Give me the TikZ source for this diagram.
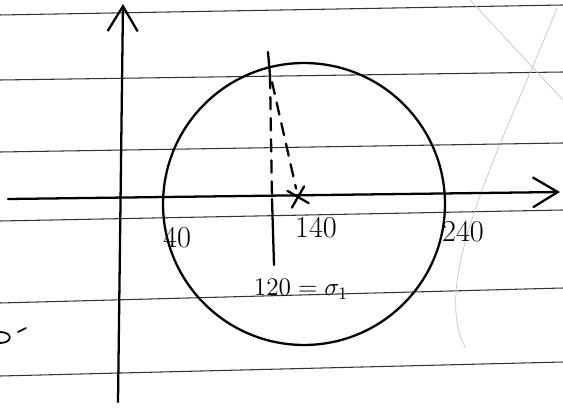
\documentclass[tikz,border=0pt]{standalone}
\usetikzlibrary{arrows.meta,shapes.misc}
\begin{document}
\begin{tikzpicture}[x=0.02cm,y=-0.02cm,>={Straight Barb[length=5mm,width=6mm]}]

        % Styles
        \tikzset{
          ink/.style={line width=1.3pt,line cap=round},
          dashink/.style={ink,dash pattern=on 7pt off 5pt},
          rule/.style={black!80,line width=0.6pt},
          ghost/.style={gray!45,line width=0.4pt},
          lbl/.style={font=\LARGE,inner sep=1pt}
        }

        \useasboundingbox (0,0) rectangle (563,408);

        % y-coordinates
        \def\yaxis{199}    % horizontal axis
        \def\ytop{52}      % top of the marker line
        \def\ybot{265}     % bottom of the marker line

        %-------------------------------
        % Ruled paper
        %-------------------------------
        \foreach \yl/\yr in {15/5,80/72,152/143,221/210,303/288,376/362}
            \draw[rule] (0,\yl) -- (563,\yr);

        % show-through from the back of the page
        \draw[ghost] (470,0) -- (563,100);
        \draw[ghost] (557,8) .. controls (500,150) and (430,280) .. (465,347);

        % stray mark on the margin
        \draw[ink,line width=1pt] (0,332) .. controls (13,332) and (13,343) .. (0,343);
        \draw[ink,line width=1pt] (18,332) -- (26,328);

        %-------------------------------
        % Axes
        %-------------------------------
        \coordinate (xstart) at (8,\yaxis);
        \coordinate (xend)   at (560,192);
        \coordinate (ystart) at (118,402);
        \coordinate (yend)   at (123,4);

        \draw[ink,->] (xstart) -- (xend);
        \draw[ink,->] (ystart) -- (yend);

        %-------------------------------
        % Circle
        %-------------------------------
        \node[ink,draw,circle,minimum size=5.64cm,inner sep=0pt] (disc) at (304,204) {};

        %-------------------------------
        % Marker line at 120 and dashed line to 140
        %-------------------------------
        \coordinate (top)   at (268,\ytop);
        \coordinate (dashA) at (270,76);
        \coordinate (mid)   at (272,\yaxis);
        \coordinate (bot)   at (274,\ybot);

        \draw[ink] (top) -- (dashA);
        \draw[dashink] (dashA) -- (mid);
        \draw[ink] (mid) -- (bot);

        \coordinate (diagtop) at (272,82);
        \node[cross out,draw,ink,minimum size=0.3cm,rotate=15] (star) at (298,197) {};
        \draw[dashink] (diagtop) -- (star);

        %-------------------------------
        % Labels
        %-------------------------------
        \node[lbl] (l40)  at (177,238) {40};
        \node[lbl] (l140) at (316,228) {140};
        \node[lbl] (l240) at (463,232) {240};
        \node[lbl,font=\Large] (lsig) at (301,289) {$120=\sigma_1$};

    \end{tikzpicture}
\end{document}
